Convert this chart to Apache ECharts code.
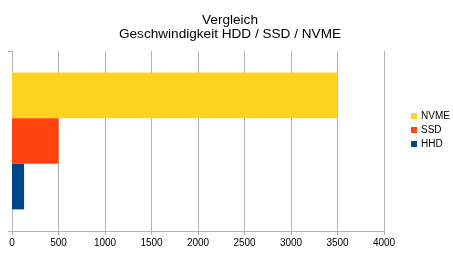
<!DOCTYPE html>
<html><head><meta charset="utf-8">
<script src="https://cdn.jsdelivr.net/npm/echarts@6/dist/echarts.min.js"></script>
<style>html,body{margin:0;padding:0;background:#fff}#c{width:453px;height:255px}</style>
</head><body><div id="c"></div>
<script>
const categories = ['Geschwindigkeit'];
const seriesNames = ['NVME', 'SSD', 'HHD'];
const nvmeValues = [3500];
const ssdValues = [500];
const hhdValues = [130];
const legendOrder = ['NVME', 'SSD', 'HHD'];
const colors = {HHD: '#004586', SSD: '#FF420E', NVME: '#FFD320'};
const valuesByName = {HHD: hhdValues, SSD: ssdValues, NVME: nvmeValues};

const chart = echarts.init(document.getElementById('c'), null, {renderer: 'canvas'});
chart.setOption({
  animation: false,
  title: {
    text: 'Vergleich\nGeschwindigkeit HDD / SSD / NVME',
    left: 225, top: 8, textAlign: 'center',
    textStyle: {fontFamily: 'Liberation Sans', fontSize: 13.6, fontWeight: 'normal', color: '#000', lineHeight: 14}
  },
  legend: {
    data: legendOrder, orient: 'vertical', left: 406, top: 106,
    itemWidth: 6, itemHeight: 6, itemGap: 4, icon: 'rect',
    textStyle: {fontFamily: 'Liberation Sans', fontSize: 10, color: '#000', padding: [0,0,0,-1]}
  },
  grid: {left: 12, right: 69, top: 51, bottom: 24, containLabel: false},
  xAxis: {
    type: 'value', min: 0, max: 4000, interval: 500,
    axisLine: {show: true, lineStyle: {color: '#b3b3b3'}},
    axisTick: {show: true, length: 4, lineStyle: {color: '#b3b3b3'}},
    splitLine: {show: true, lineStyle: {color: '#b3b3b3'}},
    axisLabel: {fontFamily: 'Liberation Sans', fontSize: 10, color: '#000', margin: 7, formatter: v => String(v)}
  },
  yAxis: {
    type: 'category', data: categories,
    axisLine: {show: true, lineStyle: {color: '#b3b3b3'}},
    axisTick: {show: true, length: 4, lineStyle: {color: '#b3b3b3'}},
    axisLabel: {show: false}
  },
  series: seriesNames.map(n => ({
    name: n, type: 'bar', data: valuesByName[n],
    barGap: '0%', barCategoryGap: '24%',
    itemStyle: {color: colors[n]}
  }))
});
</script></body></html>
